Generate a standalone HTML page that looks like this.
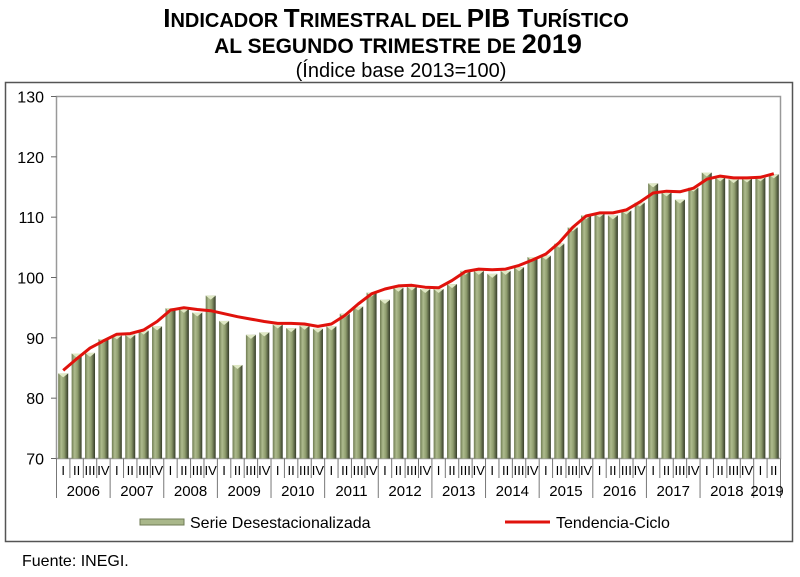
<!DOCTYPE html>
<html><head><meta charset="utf-8"><style>
body{margin:0;background:#fff;width:800px;height:572px;overflow:hidden;font-family:"Liberation Sans",sans-serif}
</style></head><body>
<svg id="s" width="800" height="572" xmlns="http://www.w3.org/2000/svg" font-family="Liberation Sans, sans-serif">
<defs>
<linearGradient id="g" x1="0" x2="1" y1="0" y2="0">
<stop offset="0" stop-color="#6f7c52"/><stop offset="0.3" stop-color="#aebb8e"/><stop offset="0.6" stop-color="#8f9d6e"/><stop offset="1" stop-color="#353c28"/>
</linearGradient>
</defs>
<text x="396" y="27" text-anchor="middle" font-weight="bold" font-size="20"><tspan font-size="26">I</tspan>NDICADOR <tspan font-size="26">T</tspan>RIMESTRAL DEL <tspan font-size="26">PIB T</tspan>URÍSTICO</text>
<text x="398" y="53" text-anchor="middle" font-weight="bold" font-size="21">AL SEGUNDO TRIMESTRE DE <tspan font-size="27">2019</tspan></text>
<text x="401" y="77" text-anchor="middle" font-size="20">(Índice base 2013=100)</text>
<rect x="5.5" y="82.5" width="787" height="459" fill="none" stroke="#555" stroke-width="1.5"/>
<rect x="56.5" y="96.5" width="724" height="362" fill="#fff" stroke="#999" stroke-width="1.5"/>
<g id="bars"></g>
<g id="axes"></g>
<text x="22" y="566" font-size="16">Fuente: INEGI.</text>
</svg>
<script>
var b=[84.1,87.4,87.5,89.8,90.4,90.5,91.2,91.9,94.9,94.8,94.2,97.0,92.8,85.5,90.5,90.9,
92.2,91.6,92.0,91.5,91.9,94.0,95.2,97.5,96.3,98.3,98.5,98.1,98.1,98.9,101.1,101.1,100.6,101.1,101.7,103.4,
103.6,105.6,108.3,110.3,110.6,110.3,111.1,112.4,115.6,114.1,112.9,114.9,117.4,116.6,116.3,116.4,116.6,117.1];
var t=[84.6,86.5,88.3,89.5,90.6,90.7,91.3,92.7,94.6,95.0,94.7,94.5,94.0,93.5,93.1,92.7,
92.4,92.4,92.3,91.9,92.3,93.7,95.6,97.3,98.1,98.6,98.7,98.4,98.3,99.5,101.0,101.4,101.3,101.4,102.0,102.9,
103.9,105.8,108.3,110.2,110.7,110.7,111.2,112.5,114.0,114.3,114.2,114.8,116.3,116.8,116.5,116.5,116.6,117.2];
var X0=56.5,W=724/54,Y=function(v){return 458.5-(v-70)*362/60;};
var h='';
for(var i=0;i<54;i++){var cx=X0+(i+0.5)*W,y=Y(b[i]);
h+='<rect x="'+(cx-5)+'" y="'+y+'" width="10" height="'+(458.5-y)+'" fill="url(#g)"/>';
h+='<polygon points="'+(cx-5)+','+y+' '+(cx+5)+','+y+' '+cx+','+(y+4)+'" fill="#dfe8c4"/>';}
var p='';for(i=0;i<54;i++){p+=(X0+(i+0.5)*W).toFixed(1)+','+Y(t[i]).toFixed(1)+' ';}
h+='<polyline points="'+p+'" fill="none" stroke="#e0120c" stroke-width="3" stroke-linejoin="round"/>';
document.getElementById('bars').innerHTML=h;
var a='';
for(var v=70;v<=130;v+=10){var yy=Y(v);a+='<line x1="51" x2="56.5" y1="'+yy+'" y2="'+yy+'" stroke="#666"/>';
a+='<text x="44" y="'+(yy+6)+'" text-anchor="end" font-size="16">'+v+'</text>';}
var q=['I','II','III','IV'];
for(i=0;i<54;i++){var cx=X0+(i+0.5)*W;a+='<text x="'+cx+'" y="475" text-anchor="middle" font-size="13" textLength="'+(q[i%4].length>2?11:'')+'">'+q[i%4]+'</text>';}
for(i=0;i<=54;i++){var xx=X0+i*W;var yr=(i%4==0)||i==54;a+='<line x1="'+xx+'" x2="'+xx+'" y1="458.5" y2="'+(yr?498:478)+'" stroke="#777"/>';}
for(var k=0;k<14;k++){var s=k*4,e=Math.min(s+4,54);a+='<text x="'+(X0+(s+e)/2*W)+'" y="496" text-anchor="middle" font-size="15">'+(2006+k)+'</text>';}
a+='<rect x="140" y="519" width="44" height="6" fill="#a9b78a" stroke="#6f7b55"/>';
a+='<text x="190" y="528" font-size="16">Serie Desestacionalizada</text>';
a+='<line x1="505" x2="550" y1="522" y2="522" stroke="#e0120c" stroke-width="3"/>';
a+='<text x="556" y="528" font-size="16">Tendencia-Ciclo</text>';
document.getElementById('axes').innerHTML=a.replace(/ textLength=""/g,'');
</script>
</body></html>
